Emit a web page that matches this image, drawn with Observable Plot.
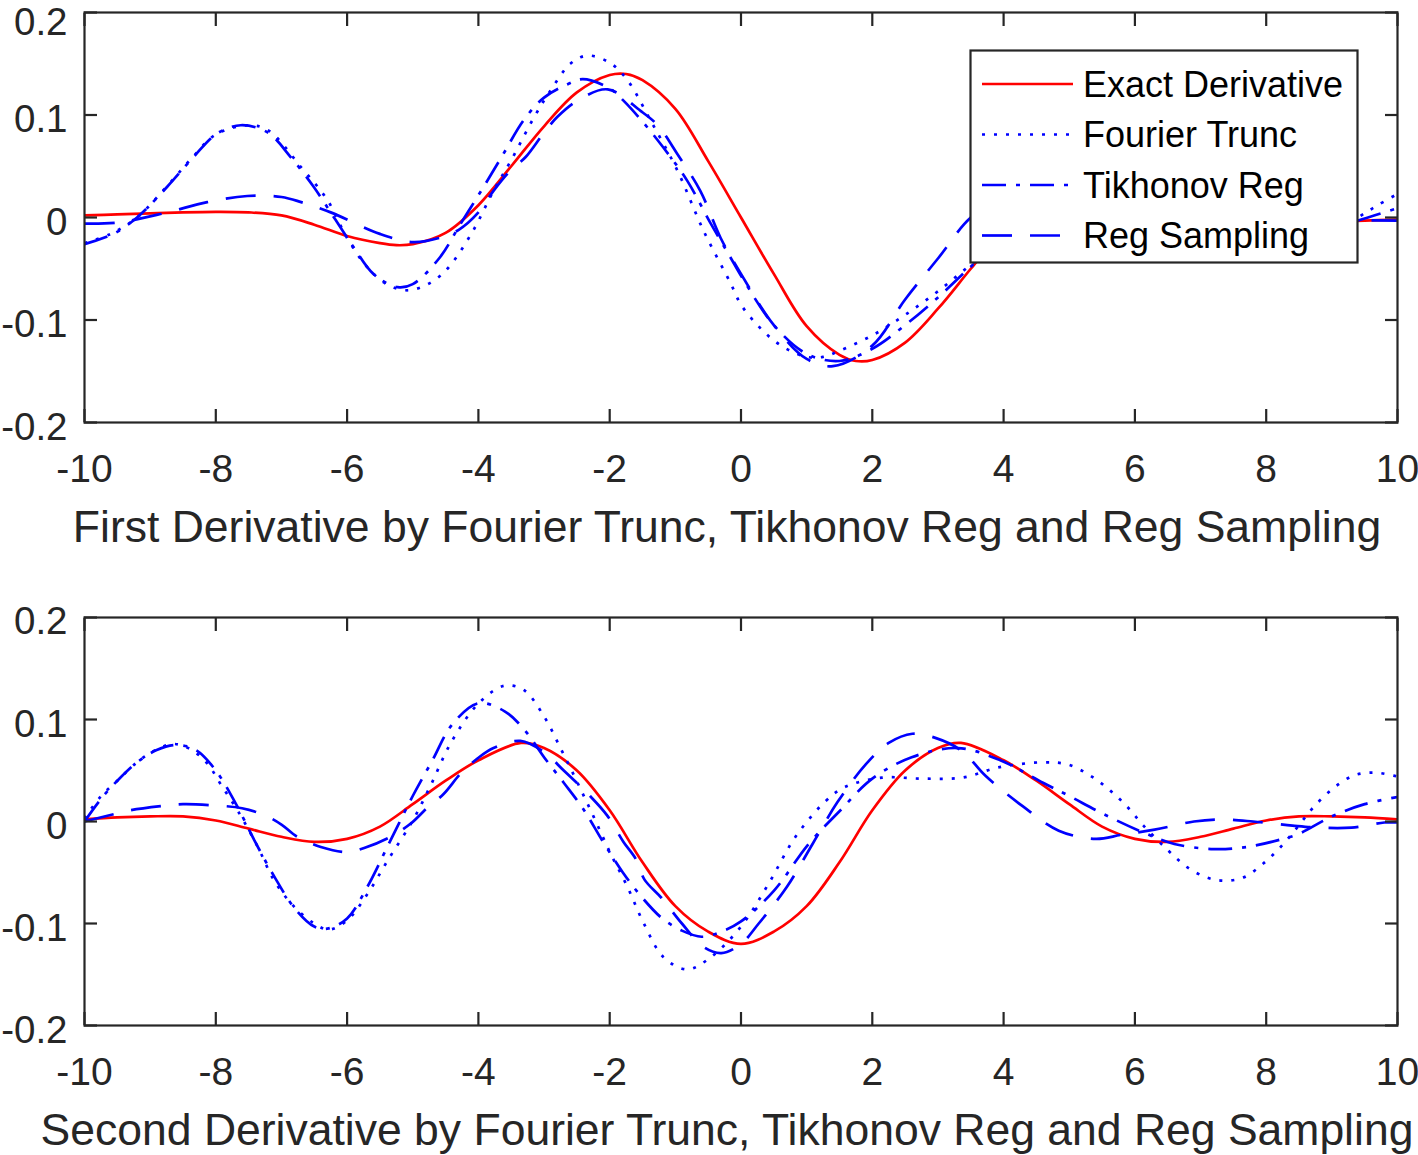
<!DOCTYPE html>
<html><head><meta charset="utf-8">
<script src="https://cdn.jsdelivr.net/npm/d3@7"></script>
<script src="https://cdn.jsdelivr.net/npm/@observablehq/plot@0.6"></script>
<style>
html,body{margin:0;padding:0;background:#fff;}
#chart svg{display:block;}
</style></head><body><div id="chart"></div>
<script>
// ---------- First derivative ----------
const exact1X = [-10,-9.5,-9,-8.5,-8,-7.5,-7,-6.5,-6,-5.5,-5.25,-5,-4.5,-4,-3.5,-3,-2.5,-2,-1.75,-1.5,-1,-0.5,0,0.5,1,1.5,1.75,2,2.5,3,3.5,4,4.5,5,5.25,5.5,6,6.5,7,7.5,8,8.5,9,9.5,10];
const exact1Y = [0.002,0.003,0.004,0.005,0.0055,0.005,0.002,-0.007,-0.018,-0.025,-0.027,-0.026,-0.015,0.012,0.05,0.089,0.122,0.139,0.14,0.134,0.106,0.055,0,-0.055,-0.106,-0.134,-0.14,-0.139,-0.122,-0.089,-0.05,-0.012,0.015,0.026,0.027,0.025,0.018,0.007,-0.002,-0.005,-0.0055,-0.005,-0.004,-0.003,-0.002];

const fourier1X = [-10,-9.6,-9.2,-8.75,-8.35,-8.0,-7.5,-7.2,-6.7,-6.3,-6.0,-5.7,-5.4,-5.1,-4.8,-4.5,-4.1,-3.77,-3.5,-3.15,-2.9,-2.6,-2.34,-2.0,-1.73,-1.38,-0.97,-0.57,-0.16,0,0.25,0.5,0.75,1.0,1.25,1.5,2.0,2.5,3.0,3.5,4,4.5,5,5.5,6,6.5,7,7.5,8,8.5,9,9.4,9.7,10];
const fourier1Y = [-0.025,-0.016,0.0,0.03,0.059,0.081,0.09,0.085,0.049,0.017,-0.02,-0.048,-0.065,-0.071,-0.066,-0.052,-0.015,0.026,0.056,0.098,0.124,0.15,0.158,0.151,0.134,0.095,0.046,-0.013,-0.064,-0.085,-0.105,-0.12,-0.13,-0.136,-0.136,-0.13,-0.115,-0.095,-0.072,-0.046,-0.02,0.01,0.04,0.058,0.062,0.05,0.022,-0.008,-0.028,-0.032,-0.018,0.0,0.012,0.023];

const tikhonov1X = [-10,-9.56,-9.2,-8.74,-8.34,-7.98,-7.62,-7.21,-6.86,-6.51,-6.2,-5.9,-5.6,-5.23,-5.0,-4.6,-4.27,-3.92,-3.62,-3.31,-3.0,-2.64,-2.41,-2.0,-1.79,-1.48,-1.18,-0.82,-0.46,-0.16,0.04,0.5,1.0,1.5,2.0,2.5,3.0,3.5,4,4.5,5,5.5,6,6.5,7,7.5,8,8.5,9,9.4,10];
const tikhonov1Y = [-0.026,-0.016,0.0,0.03,0.059,0.082,0.09,0.083,0.059,0.03,0.0,-0.029,-0.055,-0.068,-0.065,-0.04,-0.006,0.03,0.062,0.095,0.117,0.13,0.135,0.126,0.114,0.092,0.068,0.036,-0.006,-0.039,-0.061,-0.105,-0.133,-0.14,-0.128,-0.105,-0.078,-0.048,-0.02,0.01,0.033,0.047,0.048,0.034,0.01,-0.012,-0.024,-0.024,-0.012,-0.003,0.009];

const sampling1X = [-10,-9.5,-8.8,-8.13,-7.52,-7.0,-6.7,-6.25,-5.5,-5.0,-4.6,-4.3,-4.0,-3.77,-3.51,-3.28,-3.01,-2.8,-2.49,-2.03,-1.53,-1.27,-0.97,-0.62,-0.31,0,0.5,1.0,1.4,2.0,2.5,3.0,3.5,4,5,6,7,8,9,9.4,10];
const sampling1Y = [-0.006,-0.005,0.004,0.015,0.021,0.02,0.015,0.005,-0.016,-0.024,-0.02,-0.012,0.005,0.026,0.046,0.059,0.082,0.098,0.114,0.125,0.104,0.09,0.062,0.026,-0.02,-0.055,-0.105,-0.138,-0.145,-0.125,-0.08,-0.04,0.0,0.02,0.025,0.01,-0.005,-0.01,-0.005,-0.003,-0.003];

// ---------- Second derivative ----------
const exact2X = [-10,-9.5,-9,-8.5,-8,-7.5,-7,-6.5,-6,-5.5,-5,-4.5,-4,-3.35,-3,-2.5,-2,-1.5,-1,-0.5,0,0.5,1,1.5,2,2.5,3,3.35,4,4.5,5,5.5,6,6.5,7,7.5,8,8.5,9,9.5,10];
const exact2Y = [0.002,0.004,0.005,0.005,0.001,-0.007,-0.015,-0.02,-0.017,-0.005,0.017,0.04,0.06,0.077,0.072,0.05,0.011,-0.04,-0.083,-0.108,-0.12,-0.108,-0.083,-0.04,0.011,0.05,0.072,0.077,0.06,0.04,0.017,-0.005,-0.017,-0.02,-0.015,-0.007,0.001,0.005,0.005,0.004,0.002];

const fourier2X = [-10,-9.76,-9.5,-9.2,-8.89,-8.64,-8.39,-8.13,-7.93,-7.67,-7.36,-7.11,-6.8,-6.5,-6.28,-6.0,-5.69,-5.38,-5.0,-4.73,-4.42,-4.01,-3.61,-3.31,-3.0,-2.75,-2.49,-2.24,-1.99,-1.73,-1.48,-1.18,-0.82,-0.46,0,0.42,0.83,1.29,1.59,2.15,2.76,3.37,3.92,4.59,4.97,5.32,5.63,5.89,6.13,6.5,6.8,7.1,7.35,7.65,7.96,8.22,8.47,8.72,9.03,9.33,9.63,9.94,10];
const fourier2Y = [0.003,0.024,0.04,0.058,0.071,0.076,0.071,0.057,0.037,0.011,-0.025,-0.058,-0.084,-0.1,-0.106,-0.097,-0.071,-0.038,0.001,0.035,0.077,0.115,0.133,0.129,0.103,0.072,0.038,0.004,-0.031,-0.064,-0.1,-0.133,-0.145,-0.133,-0.103,-0.061,-0.015,0.02,0.034,0.043,0.042,0.043,0.053,0.058,0.056,0.045,0.03,0.014,-0.004,-0.028,-0.045,-0.055,-0.058,-0.055,-0.041,-0.025,-0.006,0.014,0.033,0.045,0.048,0.045,0.044];

const tikhonov2X = [-10,-9.75,-9.5,-9.2,-8.9,-8.6,-8.3,-8.0,-7.7,-7.4,-7.1,-6.8,-6.5,-6.3,-6.0,-5.7,-5.35,-5.0,-4.7,-4.4,-4.0,-3.6,-3.3,-3.0,-2.7,-2.4,-2.1,-1.8,-1.5,-1.2,-0.9,-0.6,-0.3,0,0.5,1.03,1.5,2.0,2.6,3.3,3.95,4.6,5.0,5.5,6.1,6.6,7.2,7.7,8.2,8.5,9.0,9.5,10];
const tikhonov2Y = [0.0,0.022,0.04,0.058,0.07,0.075,0.07,0.05,0.018,-0.02,-0.055,-0.085,-0.103,-0.105,-0.095,-0.065,-0.02,0.025,0.06,0.095,0.116,0.108,0.09,0.063,0.038,0.012,-0.02,-0.05,-0.075,-0.095,-0.107,-0.113,-0.108,-0.098,-0.068,-0.022,0.01,0.042,0.063,0.072,0.06,0.038,0.025,0.008,-0.01,-0.022,-0.027,-0.025,-0.018,-0.012,0.005,0.017,0.024];

const sampling2X = [-10,-9.5,-9.3,-8.84,-8.5,-8.08,-7.6,-7.25,-7.0,-6.76,-6.4,-6.0,-5.74,-5.34,-5.03,-4.77,-4.53,-4.27,-4.01,-3.77,-3.36,-3.0,-2.7,-2.3,-2.04,-1.79,-1.6,-1.47,-1.21,-0.9,-0.57,-0.3,0,0.27,0.7,1.09,1.47,1.9,2.25,2.61,2.96,3.37,3.72,4.29,4.84,5.4,5.8,6.3,6.9,7.3,7.8,8.4,8.8,9.3,9.8,10];
const sampling2Y = [0.0,0.008,0.011,0.015,0.017,0.016,0.013,0.006,-0.003,-0.015,-0.025,-0.03,-0.026,-0.015,-0.002,0.014,0.027,0.047,0.062,0.072,0.079,0.068,0.05,0.025,0.006,-0.02,-0.037,-0.057,-0.075,-0.1,-0.123,-0.129,-0.12,-0.1,-0.064,-0.022,0.019,0.056,0.077,0.086,0.082,0.069,0.045,0.015,-0.009,-0.017,-0.013,-0.008,0.0,0.002,0.0,-0.004,-0.006,-0.006,-0.001,-0.001];

// ---------- Labels / ticks ----------
const xTicks = [-10,-8,-6,-4,-2,0,2,4,6,8,10];
const yTicks = [-0.2,-0.1,0,0.1,0.2];
const seriesNames = ["Exact Derivative","Fourier Trunc","Tikhonov Reg","Reg Sampling"];
const seriesColors = ["#ff0000","#0000ff","#0000ff","#0000ff"];
const seriesDash = [null,"3,9","24,10,4,10","30,18"];
const titles = ["First Derivative by Fourier Trunc, Tikhonov Reg and Reg Sampling",
                "Second Derivative by Fourier Trunc, Tikhonov Reg and Reg Sampling"];

const FONT = "'Liberation Sans', Arial, Helvetica, sans-serif";
const AXC = "#262626";

function rows(xs, ys) { return xs.map((x, i) => ({x, y: ys[i]})); }

function makeChart(series, title, height, marginTop, marginBottom, topLabelDy) {
  const lines = series.map((s, i) => Plot.line(s, {
    x: "x", y: "y", curve: "catmull-rom", clip: true,
    stroke: seriesColors[i], strokeWidth: 2.7,
    strokeDasharray: seriesDash[i] || undefined, strokeLinecap: "butt"
  }));
  const yMax = d3.max(yTicks);
  return Plot.plot({
    width: 1418, height, marginLeft: 84, marginRight: 21, marginTop, marginBottom,
    style: {fontFamily: FONT, background: "white", color: AXC, overflow: "visible"},
    x: {domain: [-10, 10]},
    y: {domain: [-0.2, 0.2]},
    marks: [
      ...lines,
      Plot.frame({stroke: AXC, strokeWidth: 2.2}),
      Plot.axisX(xTicks, {anchor: "bottom", tickSize: -13, tickPadding: 45, fontSize: 39, stroke: AXC, strokeWidth: 2.2, tickFormat: d => String(d), label: null}),
      Plot.axisX(xTicks, {anchor: "top", tickSize: -13, tickPadding: 0, stroke: AXC, strokeWidth: 2.2, tickFormat: () => "", label: null}),
      Plot.axisY(yTicks, {anchor: "left", tickSize: -13, tickPadding: 0, stroke: AXC, strokeWidth: 2.2, tickFormat: () => "", label: null}),
      Plot.axisY(yTicks.filter(t => t !== yMax), {anchor: "left", tickSize: 0, tickPadding: 17, dy: 5, fontSize: 38.5, tickFormat: d => String(d), label: null}),
      Plot.axisY([yMax], {anchor: "left", tickSize: 0, tickPadding: 17, dy: topLabelDy, fontSize: 38.5, tickFormat: d => String(d), label: null}),
      Plot.axisY(yTicks, {anchor: "right", tickSize: -13, tickPadding: 0, stroke: AXC, strokeWidth: 2.2, tickFormat: () => "", label: null}),
      Plot.text([title], {text: d => d, frameAnchor: "bottom", dy: 119, dx: -14, fontSize: 44.5, fill: AXC})
    ]
  });
}

const topChart = makeChart([rows(exact1X, exact1Y), rows(fourier1X, fourier1Y), rows(tikhonov1X, tikhonov1Y), rows(sampling1X, sampling1Y)], titles[0], 565, 12, 143, 10);
const bottomChart = makeChart([rows(exact2X, exact2Y), rows(fourier2X, fourier2Y), rows(tikhonov2X, tikhonov2Y), rows(sampling2X, sampling2Y)], titles[1], 590, 52, 130, 4);

// Legend inside the top axes (north-east)
const lg = d3.select(topChart).append("g").attr("font-family", FONT).attr("text-anchor", "start");
lg.append("rect").attr("x", 970.5).attr("y", 50.5).attr("width", 387).attr("height", 212)
  .attr("fill", "white").attr("stroke", AXC).attr("stroke-width", 2.2);
seriesNames.forEach((name, i) => {
  const cy = 84 + i * 50.5;
  lg.append("line").attr("x1", 982).attr("x2", 1073).attr("y1", cy).attr("y2", cy)
    .attr("stroke", seriesColors[i]).attr("stroke-width", 2.7)
    .attr("stroke-dasharray", seriesDash[i]);
  lg.append("text").attr("x", 1083).attr("y", cy).attr("dy", "0.35em")
    .attr("text-anchor", "start").attr("font-size", 36).attr("fill", "#000").text(name);
});

document.getElementById("chart").append(topChart, bottomChart);
</script></body></html>
